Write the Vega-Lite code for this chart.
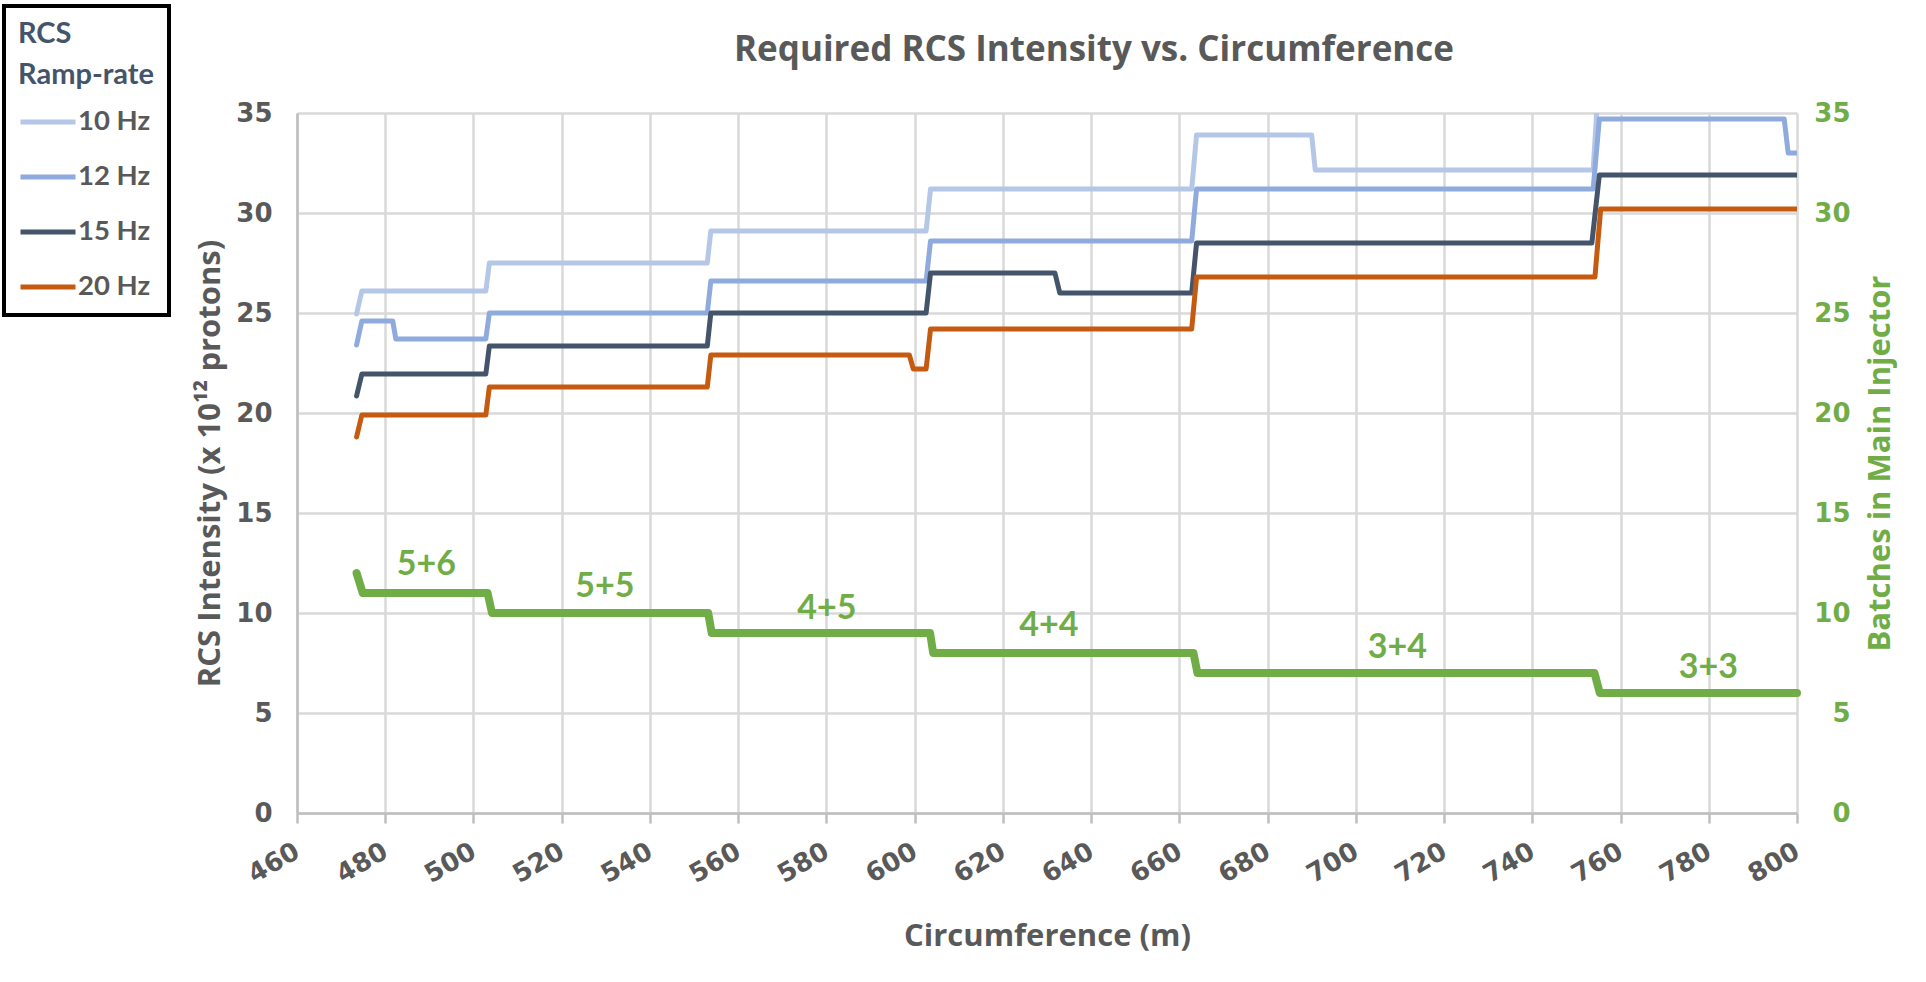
{
  "$schema": "https://vega.github.io/schema/vega-lite/v6.json",
  "autosize": "none",
  "width": 1500,
  "height": 700,
  "padding": {"left": 297, "top": 113, "right": 129, "bottom": 169},
  "background": "white",
  "title": {
    "text": "Required RCS Intensity vs. Circumference",
    "font": "Open Sans", "fontSize": 35, "fontWeight": "bold", "color": "#595959",
    "anchor": "middle", "frame": "group", "offset": 0, "dy": 92, "dx": 47, "baseline": "alphabetic"
  },
  "datasets": {
    "intensity": [
      {"series": "10 Hz", "x": 473.5, "y": 24.95}, {"series": "10 Hz", "x": 474.7, "y": 26.1},
      {"series": "10 Hz", "x": 502.8, "y": 26.1}, {"series": "10 Hz", "x": 503.6, "y": 27.5},
      {"series": "10 Hz", "x": 553.0, "y": 27.5}, {"series": "10 Hz", "x": 553.8, "y": 29.1},
      {"series": "10 Hz", "x": 602.6, "y": 29.1}, {"series": "10 Hz", "x": 603.6, "y": 31.2},
      {"series": "10 Hz", "x": 662.8, "y": 31.2}, {"series": "10 Hz", "x": 663.9, "y": 33.9},
      {"series": "10 Hz", "x": 690.0, "y": 33.9}, {"series": "10 Hz", "x": 690.8, "y": 32.15},
      {"series": "10 Hz", "x": 753.8, "y": 32.15}, {"series": "10 Hz", "x": 755.0, "y": 36.5},
      {"series": "10 Hz", "x": 800, "y": 36.5},
      {"series": "12 Hz", "x": 473.5, "y": 23.4}, {"series": "12 Hz", "x": 474.7, "y": 24.6},
      {"series": "12 Hz", "x": 481.7, "y": 24.6}, {"series": "12 Hz", "x": 482.4, "y": 23.7},
      {"series": "12 Hz", "x": 502.8, "y": 23.7}, {"series": "12 Hz", "x": 503.6, "y": 25.0},
      {"series": "12 Hz", "x": 553.0, "y": 25.0}, {"series": "12 Hz", "x": 553.8, "y": 26.6},
      {"series": "12 Hz", "x": 602.6, "y": 26.6}, {"series": "12 Hz", "x": 603.6, "y": 28.6},
      {"series": "12 Hz", "x": 662.8, "y": 28.6}, {"series": "12 Hz", "x": 663.9, "y": 31.2},
      {"series": "12 Hz", "x": 753.8, "y": 31.2}, {"series": "12 Hz", "x": 755.2, "y": 34.7},
      {"series": "12 Hz", "x": 797.1, "y": 34.7}, {"series": "12 Hz", "x": 798.0, "y": 33.0},
      {"series": "12 Hz", "x": 800, "y": 33.0},
      {"series": "15 Hz", "x": 473.5, "y": 20.85}, {"series": "15 Hz", "x": 474.7, "y": 21.95},
      {"series": "15 Hz", "x": 502.8, "y": 21.95}, {"series": "15 Hz", "x": 503.6, "y": 23.35},
      {"series": "15 Hz", "x": 553.0, "y": 23.35}, {"series": "15 Hz", "x": 553.8, "y": 25.0},
      {"series": "15 Hz", "x": 602.6, "y": 25.0}, {"series": "15 Hz", "x": 603.6, "y": 27.0},
      {"series": "15 Hz", "x": 631.8, "y": 27.0}, {"series": "15 Hz", "x": 632.9, "y": 26.0},
      {"series": "15 Hz", "x": 662.8, "y": 26.0}, {"series": "15 Hz", "x": 663.9, "y": 28.5},
      {"series": "15 Hz", "x": 753.5, "y": 28.5}, {"series": "15 Hz", "x": 755.2, "y": 31.9},
      {"series": "15 Hz", "x": 800, "y": 31.9},
      {"series": "20 Hz", "x": 473.5, "y": 18.8}, {"series": "20 Hz", "x": 474.7, "y": 19.9},
      {"series": "20 Hz", "x": 502.8, "y": 19.9}, {"series": "20 Hz", "x": 503.6, "y": 21.3},
      {"series": "20 Hz", "x": 553.0, "y": 21.3}, {"series": "20 Hz", "x": 553.8, "y": 22.9},
      {"series": "20 Hz", "x": 598.8, "y": 22.9}, {"series": "20 Hz", "x": 599.7, "y": 22.2},
      {"series": "20 Hz", "x": 602.6, "y": 22.2}, {"series": "20 Hz", "x": 603.6, "y": 24.2},
      {"series": "20 Hz", "x": 662.8, "y": 24.2}, {"series": "20 Hz", "x": 663.9, "y": 26.8},
      {"series": "20 Hz", "x": 754.2, "y": 26.8}, {"series": "20 Hz", "x": 755.5, "y": 30.2},
      {"series": "20 Hz", "x": 800, "y": 30.2}
    ],
    "batches": [
      {"x": 473.5, "batches": 12}, {"x": 474.9, "batches": 11},
      {"x": 503.2, "batches": 11}, {"x": 504.2, "batches": 10},
      {"x": 553.2, "batches": 10}, {"x": 554.0, "batches": 9},
      {"x": 603.5, "batches": 9}, {"x": 604.2, "batches": 8},
      {"x": 663.2, "batches": 8}, {"x": 664.1, "batches": 7},
      {"x": 754.1, "batches": 7}, {"x": 755.3, "batches": 6},
      {"x": 800, "batches": 6}
    ],
    "labels": [
      {"x": 489.3, "batches": 12.4, "label": "5+6"},
      {"x": 529.8, "batches": 11.3, "label": "5+5"},
      {"x": 580.1, "batches": 10.2, "label": "4+5"},
      {"x": 630.4, "batches": 9.33, "label": "4+4"},
      {"x": 709.4, "batches": 8.25, "label": "3+4"},
      {"x": 779.9, "batches": 7.25, "label": "3+3"}
    ]
  },
  "layer": [
    {
      "data": {"name": "intensity"},
      "mark": {"type": "line", "clip": true, "strokeCap": "round", "strokeJoin": "round"},
      "encoding": {
        "x": {
          "field": "x", "type": "quantitative",
          "scale": {"domain": [460, 800], "nice": false, "zero": false},
          "axis": {
            "title": "Circumference (m)",
            "values": [460, 480, 500, 520, 540, 560, 580, 600, 620, 640, 660, 680, 700, 720, 740, 760, 780, 800],
            "labelAngle": -30, "labelAlign": "right", "labelBaseline": "middle", "labelPadding": 26,
            "tickSize": 10, "ticks": true,
            "titleX": 750, "titleY": 123, "titleBaseline": "middle"
          }
        },
        "y": {
          "field": "y", "type": "quantitative",
          "scale": {"domain": [0, 35], "nice": false},
          "axis": {
            "title": "RCS Intensity (x 10¹² protons)", "orient": "left",
            "values": [0, 5, 10, 15, 20, 25, 30, 35],
            "ticks": false, "labelPadding": 25,
            "titleAngle": -90, "titleX": -87, "titleY": 350, "titleBaseline": "middle", "titleAlign": "center"
          }
        },
        "color": {
          "field": "series", "type": "nominal",
          "scale": {"domain": ["10 Hz", "12 Hz", "15 Hz", "20 Hz"], "range": ["#B4C7E7", "#8FAADC", "#44546A", "#C55A11"]},
          "legend": {"title": ["RCS", "Ramp-rate"], "orient": "none", "legendX": -293, "legendY": -107}
        },
        "strokeWidth": {
          "field": "series", "type": "nominal",
          "scale": {"domain": ["10 Hz", "12 Hz", "15 Hz", "20 Hz"], "range": [5, 5, 9, 5]},
          "legend": {"title": ["RCS", "Ramp-rate"], "orient": "none", "legendX": -293, "legendY": -107}
        }
      }
    },
    {
      "data": {"name": "batches"},
      "mark": {"type": "line", "color": "#70AD47", "strokeWidth": 8, "strokeCap": "round", "strokeJoin": "round"},
      "encoding": {
        "x": {"field": "x", "type": "quantitative"},
        "y": {
          "field": "batches", "type": "quantitative",
          "scale": {"domain": [0, 35], "nice": false},
          "axis": {
            "title": "Batches in Main Injector", "orient": "right",
            "values": [0, 5, 10, 15, 20, 25, 30, 35],
            "grid": false, "domain": false, "ticks": false,
            "labelColor": "#70AD47", "titleColor": "#70AD47",
            "labelAlign": "right", "labelPadding": 53,
            "titleAngle": -90, "titleX": 83, "titleY": 350, "titleBaseline": "middle", "titleAlign": "center"
          }
        }
      }
    },
    {
      "data": {"name": "labels"},
      "mark": {"type": "text", "font": "Lato", "fontSize": 34, "fontWeight": "bold", "color": "#70AD47", "baseline": "middle", "align": "center"},
      "encoding": {
        "x": {"field": "x", "type": "quantitative"},
        "y": {"field": "batches", "type": "quantitative", "scale": {"domain": [0, 35], "nice": false}, "axis": null},
        "text": {"field": "label", "type": "nominal"}
      }
    }
  ],
  "resolve": {"scale": {"y": "independent"}},
  "config": {
    "view": {"stroke": null},
    "axis": {
      "labelFont": "DejaVu Sans", "labelFontSize": 26, "labelFontWeight": "bold", "labelColor": "#595959",
      "titleFont": "Open Sans", "titleFontSize": 31, "titleFontWeight": "bold", "titleColor": "#595959",
      "gridColor": "#D9D9D9", "gridWidth": 2.5,
      "domainColor": "#BFBFBF", "domainWidth": 2.5,
      "tickColor": "#BFBFBF", "tickWidth": 2.5
    },
    "legend": {
      "titleFont": "Lato", "titleFontSize": 29, "titleFontWeight": "bold", "titleColor": "#44546A",
      "titleLineHeight": 41, "titlePadding": 2,
      "labelFont": "Lato", "labelFontSize": 27.5, "labelFontWeight": "bold", "labelColor": "#595959",
      "labelOffset": 0,
      "symbolType": "stroke", "symbolSize": 3025,
      "rowPadding": 11, "padding": 14,
      "strokeColor": "black", "strokeWidth": 4, "fillColor": "white"
    }
  }
}
